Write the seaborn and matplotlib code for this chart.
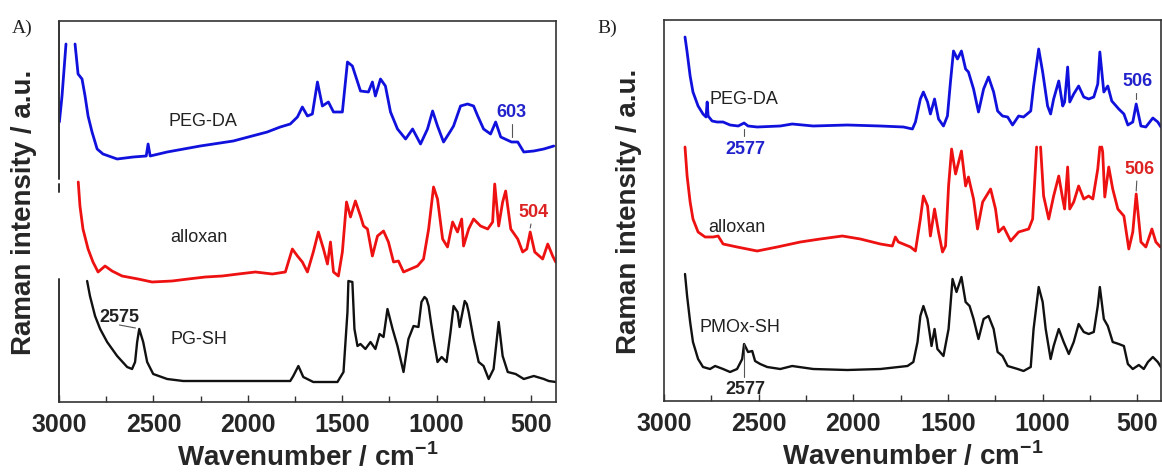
import numpy as np
import pandas as pd
import matplotlib
matplotlib.use("Agg")
import matplotlib.pyplot as plt
import seaborn as sns
from matplotlib.ticker import MultipleLocator, FixedLocator

nan = np.nan

# ---------------- Panel A: PEG-DA / alloxan / PG-SH ----------------
a_peg_wn = [2998, 2984, 2963, 2940, 2915, 2899, 2878, 2862, 2846, 2825, 2798, 2767, 2692,
            2607, 2538, 2528, 2517, 2427, 2252, 2077, 1897, 1828, 1775, 1737, 1711, 1684,
            1658, 1631, 1605, 1573, 1546, 1499, 1472, 1446, 1403, 1361, 1340, 1324, 1297,
            1271, 1244, 1207, 1164, 1127, 1085, 1048, 1021, 995, 963, 926, 910, 873, 836,
            804, 782, 751, 714, 687, 660, 603, 570, 538, 485, 432, 379]
a_peg_int = [280, 306, 358, nan, 358, 328, 323, 306, 286, 270, 253, 248, 243,
             245, 246, 258, 246, 250, 256, 261, 270, 275, 278, 285, 295, 286,
             288, 320, 296, 300, 290, 290, 340, 336, 311, 310, 320, 306, 323,
             316, 290, 273, 263, 273, 258, 273, 291, 276, 260, 271, 276, 296, 298,
             296, 286, 273, 268, 280, 265, 260, 260, 250, 251, 253, 256]

a_all_wn = [2898, 2889, 2873, 2846, 2820, 2793, 2756, 2719, 2666, 2581, 2507, 2401, 2316,
            2225, 2135, 2050, 1960, 1870, 1801, 1785, 1764, 1737, 1711, 1684, 1653, 1626,
            1599, 1578, 1562, 1546, 1520, 1499, 1477, 1456, 1430, 1403, 1387, 1366, 1340,
            1313, 1281, 1255, 1228, 1202, 1175, 1138, 1101, 1069, 1042, 1016, 995, 968,
            942, 915, 889, 867, 857, 830, 804, 767, 729, 703, 692, 671, 650, 634, 607,
            570, 544, 522, 504, 480, 438, 411, 385, 369]
a_all_int = [220, 196, 173, 153, 140, 130, 136, 131, 126, 123, 120, 121, 123,
             125, 126, 128, 130, 128, 130, 140, 153, 146, 140, 130, 150, 170,
             153, 138, 160, 130, 126, 150, 200, 185, 201, 186, 176, 173, 146,
             166, 171, 160, 140, 141, 130, 133, 136, 143, 173, 215, 203, 163,
             155, 180, 170, 183, 156, 173, 183, 176, 173, 180, 218, 176, 200, 211, 173,
             163, 150, 153, 170, 150, 143, 158, 146, 140]

a_pgsh_wn = [2851, 2836, 2809, 2782, 2745, 2692, 2639, 2613, 2597, 2586, 2575, 2554, 2533,
             2501, 2427, 2342, 2077, 1775, 1759, 1732, 1706, 1653, 1525, 1493, 1472, 1467,
             1446, 1435, 1419, 1403, 1377, 1350, 1324, 1302, 1281, 1260, 1233, 1207, 1175,
             1149, 1122, 1096, 1080, 1064, 1053, 1042, 1030, 1016, 995, 973, 947, 926, 910,
             889, 878, 851, 840, 830, 804, 777, 751, 724, 698, 671, 650, 623, 581, 538, 485,
             432, 406, 369]
a_pgsh_int = [121, 106, 86, 73, 60, 46, 35, 33, 40, 60, 73, 60, 40,
              28, 23, 21, 21, 21, 26, 36, 25, 20, 20, 30, 90, 121,
              120, 73, 56, 58, 53, 60, 53, 68, 65, 93, 73, 56, 30,
              63, 76, 75, 100, 105, 103, 96, 80, 63, 40, 45, 40, 70, 96,
              90, 75, 101, 98, 90, 63, 40, 36, 23, 33, 80, 46, 30, 28, 23, 26,
              23, 21, 20]

# ---------------- Panel B: PEG-DA / alloxan / PMOx-SH ----------------
b_peg_wn = [2889, 2878, 2862, 2847, 2820, 2794, 2778, 2772, 2767, 2746, 2720, 2688, 2651,
            2608, 2577, 2556, 2508, 2386, 2323, 2212, 2032, 1857, 1735, 1688, 1672, 1646,
            1630, 1608, 1593, 1571, 1550, 1524, 1503, 1487, 1471, 1450, 1429, 1407, 1392,
            1365, 1339, 1312, 1286, 1259, 1238, 1212, 1185, 1159, 1127, 1101, 1063, 1048,
            1021, 1000, 974, 958, 942, 915, 894, 884, 868, 857, 836, 810, 783, 757, 730,
            709, 698, 677, 656, 635, 598, 571, 550, 524, 506, 481, 455, 418, 392, 375]
b_peg_int = [364, 349, 325, 309, 295, 287, 284, 299, 285, 280, 279, 279, 276,
             275, 278, 275, 274, 275, 277, 275, 276, 275, 274, 272, 279, 302,
             309, 299, 287, 302, 282, 275, 285, 319, 350, 342, 350, 332, 329,
             312, 289, 312, 324, 309, 290, 285, 284, 276, 285, 284, 290, 315,
             352, 329, 295, 287, 302, 320, 295, 299, 334, 299, 307, 315, 304, 302, 304,
             317, 349, 309, 315, 300, 292, 287, 276, 279, 297, 275, 274, 283, 279, 274]

b_all_wn = [2889, 2878, 2862, 2847, 2820, 2783, 2741, 2714, 2688, 2614, 2508, 2402, 2280,
            2175, 2058, 1963, 1857, 1794, 1778, 1762, 1698, 1672, 1646, 1630, 1608, 1593,
            1571, 1550, 1529, 1513, 1497, 1481, 1460, 1429, 1407, 1392, 1365, 1344, 1317,
            1275, 1249, 1233, 1206, 1169, 1127, 1074, 1053, 1032, 1021, 1011, 995, 968,
            942, 915, 894, 884, 868, 857, 836, 810, 783, 757, 735, 709, 698, 693, 688,
            683, 672, 651, 630, 603, 571, 545, 524, 506, 481, 455, 423, 402, 378]
b_all_int = [254, 225, 199, 182, 169, 164, 164, 165, 157, 154, 150, 154, 159,
             162, 165, 162, 157, 155, 164, 159, 154, 150, 182, 205, 195, 165,
             192, 169, 149, 155, 215, 252, 227, 250, 215, 224, 202, 172, 199,
             212, 192, 169, 174, 160, 169, 172, 182, 254, nan, 254, 205, 182,
             205, 225, 202, 192, 234, 192, 199, 215, 202, 205, 202, 232, 254, nan, 254,
             249, 204, 234, 212, 192, 185, 152, 169, 207, 159, 154, 172, 159, 154]

b_pmox_wn = [2889, 2878, 2862, 2847, 2820, 2794, 2757, 2730, 2688, 2651, 2614, 2587, 2577,
             2556, 2534, 2519, 2492, 2455, 2386, 2323, 2212, 2032, 1857, 1714, 1683, 1661,
             1646, 1630, 1608, 1587, 1571, 1556, 1524, 1497, 1476, 1455, 1429, 1407, 1386,
             1365, 1339, 1312, 1286, 1259, 1238, 1212, 1185, 1132, 1101, 1063, 1048, 1021,
             1000, 984, 958, 942, 915, 889, 862, 836, 810, 783, 757, 730, 709, 698, 677,
             656, 630, 598, 571, 550, 524, 492, 466, 444, 418, 392, 375]
b_pmox_int = [127, 105, 79, 59, 42, 34, 32, 35, 32, 29, 32, 42, 57,
              49, 50, 40, 37, 34, 32, 35, 32, 31, 32, 35, 39, 59,
              85, 95, 82, 55, 72, 52, 45, 72, 122, 109, 124, 99, 95,
              82, 62, 82, 85, 72, 49, 45, 35, 32, 30, 34, 72, 114,
              99, 72, 42, 55, 72, 59, 47, 59, 77, 69, 67, 69, 95, 114, 82,
              75, 59, 57, 55, 37, 32, 36, 32, 39, 44, 39, 34]

# Peak labels: (wavenumber, text)
a_peak_labels = [(603, "603"), (504, "504"), (2575, "2575")]
b_peak_labels = [(2577, "2577"), (506, "506"), (506, "506"), (2577, "2577")]

BLUE = "#1111dd"
RED = "#ee1111"
BLACK = "#111111"
LABEL_BLUE = "#2222cc"
LABEL_RED = "#dd2222"
SPINE = "#333333"

sns.set_theme(style="white")
plt.rcParams["font.family"] = ["Liberation Sans", "DejaVu Sans"]
plt.rcParams["mathtext.fontset"] = "custom"
plt.rcParams["mathtext.rm"] = "Liberation Sans"
plt.rcParams["mathtext.bf"] = "Liberation Sans:bold"

fig = plt.figure(figsize=(11.62, 4.77), dpi=100)
ax_a = fig.add_axes([59 / 1162, 74 / 477, 496.5 / 1162, 381 / 477])
ax_b = fig.add_axes([664 / 1162, 75 / 477, 497 / 1162, 381 / 477])


def spectrum(ax, wn, inten, color, lw=1.6):
    df = pd.DataFrame({"wn": wn, "I": inten})
    df["seg"] = df["I"].isna().cumsum()
    df = df.dropna()
    sns.lineplot(data=df, x="wn", y="I", units="seg", estimator=None, sort=False,
                 color=color, lw=lw, ax=ax, legend=False)


def style_axes(ax, xmax_right):
    ax.set_xlim(3000, xmax_right)
    ax.set_ylim(0, 381)
    ax.set_yticks([])
    ax.xaxis.set_major_locator(FixedLocator([3000, 2500, 2000, 1500, 1000, 500]))
    ax.xaxis.set_minor_locator(MultipleLocator(250))
    ax.tick_params(axis="x", which="both", direction="in", bottom=True, top=False,
                   color=SPINE, width=1.0)
    ax.tick_params(axis="x", which="major", length=5, pad=7, labelsize=18)
    ax.tick_params(axis="x", which="minor", length=4)
    for lab in ax.get_xticklabels():
        lab.set_fontweight("bold")
    for s in ax.spines.values():
        s.set_color(SPINE)
        s.set_linewidth(1.2)
    ax.set_xlabel("Wavenumber / cm$^{\\mathbf{-1}}$", fontsize=20, fontweight="bold",
                  labelpad=4)
    ax.set_ylabel("Raman intensity / a.u.", fontsize=20, fontweight="bold", labelpad=16)


# ---- panel A ----
spectrum(ax_a, a_peg_wn, a_peg_int, BLUE, 2.0)
spectrum(ax_a, a_all_wn, a_all_int, RED, 2.0)
spectrum(ax_a, a_pgsh_wn, a_pgsh_int, BLACK, 1.7)
style_axes(ax_a, 370)

# left frame line is broken where the traces start
ax_a.spines["left"].set_visible(False)
for lo, hi in [(223, 381), (210, 218), (0, 123)]:
    ax_a.axvline(3000, ymin=lo / 381, ymax=hi / 381, color=SPINE, lw=1.4, clip_on=False)

txt = dict(fontsize=13, color="#222222", va="center", ha="left")
ax_a.text(2422, 281, "PEG-DA", **txt)
ax_a.text(2411, 165, "alloxan", **txt)
ax_a.text(2411, 63, "PG-SH", **txt)

(w603, t603), (w504, t504), (w2575, t2575) = a_peak_labels
ax_a.text(w603, 290, t603, fontsize=13, fontweight="bold", color=LABEL_BLUE,
          ha="center", va="center")
ax_a.plot([w603, w603], [265, 278], color="#555555", lw=0.8)
ax_a.text(w504 - 17, 190, t504, fontsize=13, fontweight="bold", color=LABEL_RED,
          ha="center", va="center")
ax_a.plot([w504, w504 - 4], [174, 178], color="#555555", lw=0.8)
ax_a.text(2682, 85, t2575, fontsize=13, fontweight="bold", color="#222222",
          ha="center", va="center")
ax_a.plot([2680, w2575 + 20], [77, 74], color="#555555", lw=0.8)

# ---- panel B ----
spectrum(ax_b, b_peg_wn, b_peg_int, BLUE, 2.0)
spectrum(ax_b, b_all_wn, b_all_int, RED, 2.0)
spectrum(ax_b, b_pmox_wn, b_pmox_int, BLACK, 1.7)
style_axes(ax_b, 375)

ax_b.text(2762, 302, "PEG-DA", **txt)
ax_b.text(2767, 175, "alloxan", **txt)
ax_b.text(2815, 75, "PMOx-SH", **txt)

(wb1, tb1), (wb2, tb2), (wb3, tb3), (wb4, tb4) = b_peak_labels
ax_b.text(wb1 - 5, 253, tb1, fontsize=13, fontweight="bold", color=LABEL_BLUE,
          ha="center", va="center")
ax_b.plot([wb1, wb1], [265, 272], color="#555555", lw=0.8)
ax_b.text(wb2 - 9, 320, tb2, fontsize=13, fontweight="bold", color=LABEL_BLUE,
          ha="center", va="center")
ax_b.plot([wb2, wb2], [302, 308], color="#555555", lw=0.8)
ax_b.text(wb3 - 19, 232, tb3, fontsize=13, fontweight="bold", color=LABEL_RED,
          ha="center", va="center")
ax_b.plot([wb3, wb3 - 3], [210, 220], color="#555555", lw=0.8)
ax_b.text(wb4 - 5, 12, tb4, fontsize=13, fontweight="bold", color="#222222",
          ha="center", va="center")
ax_b.plot([wb4, wb4], [24, 57], color="#555555", lw=0.8)

# panel letters
fig.text(12 / 1162, 444 / 477, "A)", fontsize=14, family="Liberation Serif", color="#222222")
fig.text(597 / 1162, 444 / 477, "B)", fontsize=14, family="Liberation Serif", color="#222222")

fig.savefig("out.png", dpi=100)
